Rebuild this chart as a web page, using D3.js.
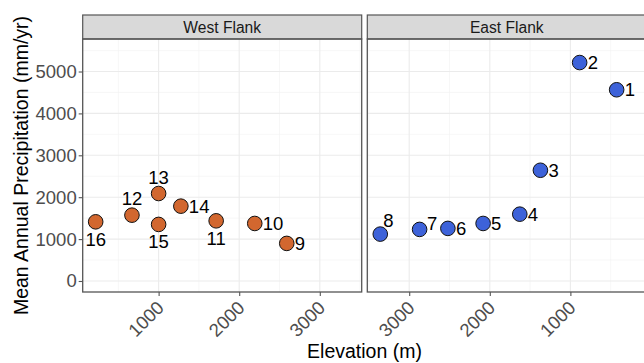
<!DOCTYPE html>
<html>
<head>
<meta charset="utf-8">
<script src="https://cdn.jsdelivr.net/npm/d3@7"></script>
<style>
  body { margin: 0; background: #fff; }
  svg { display: block; font-family: 'Liberation Sans', Arial, Helvetica, sans-serif; }
</style>
</head>
<body>
<div id="chart"></div>
<script>
// facet titles
const facets = ['West Flank', 'East Flank'];

// west flank sites
const westSite = ['16', '12', '13', '15', '14', '11', '10', '9'];
const westElev = [219, 669, 1000, 1000, 1276, 1714, 2193, 2590];
const westPrecip = [1412, 1571, 2088, 1350, 1786, 1436, 1373, 897];
const westLabelSide = ['b', 'a', 'a', 'b', 'r', 'b', 'r', 'r'];

// east flank sites
const eastSite = ['1', '2', '3', '4', '5', '6', '7', '8'];
const eastElev = [426, 885, 1372, 1628, 2083, 2520, 2871, 3359];
const eastPrecip = [4564, 5214, 2643, 1595, 1373, 1255, 1231, 1119];
const eastLabelSide = ['r', 'r', 'r', 'r', 'r', 'r', 'ru', 'ur'];

// axis ticks
const xTicks = [1000, 2000, 3000];
const xMinor = [500, 1500, 2500, 3500];
const yTicks = [0, 1000, 2000, 3000, 4000, 5000];
const yMinor = [500, 1500, 2500, 3500, 4500, 5500];

const W = 644, H = 363;
const panelW = 279, panelTop = 39, panelBottom = 292, stripTop = 15;
const panelLeft = [82.7, 367.3];

const svg = d3.select('#chart').append('svg')
    .attr('width', W)
    .attr('height', H);

const y = d3.scaleLinear().domain([-263, 5776]).range([panelBottom, panelTop]);

const panels = [
  { title: facets[0], site: westSite, elev: westElev, precip: westPrecip, side: westLabelSide,
    fill: '#D2672F', x: d3.scaleLinear().domain([58, 3520]).range([panelLeft[0], panelLeft[0] + panelW]) },
  { title: facets[1], site: eastSite, elev: eastElev, precip: eastPrecip, side: eastLabelSide,
    fill: '#3D62D9', x: d3.scaleLinear().domain([3520, 58]).range([panelLeft[1], panelLeft[1] + panelW]) }
];

// label offsets (dx, baseline dy) relative to the point centre
const offsets = {
  r: [8, 6.5], ru: [7.5, 0.5], ur: [3, -7], a: [0, -10], b: [0, 24]
};

panels.forEach((p, pi) => {
  const x = p.x;
  const x0 = panelLeft[pi], x1 = x0 + panelW;
  const g = svg.append('g');

  // minor grid
  g.selectAll('.xminor').data(xMinor.filter(v => x(v) > x0 && x(v) < x1)).enter()
    .append('line')
    .attr('x1', d => x(d)).attr('x2', d => x(d))
    .attr('y1', panelTop).attr('y2', panelBottom)
    .attr('stroke', '#F2F2F2').attr('stroke-width', 0.6);
  g.selectAll('.yminor').data(yMinor).enter()
    .append('line')
    .attr('x1', x0).attr('x2', x1)
    .attr('y1', d => y(d)).attr('y2', d => y(d))
    .attr('stroke', '#F2F2F2').attr('stroke-width', 0.6);

  // major grid
  g.selectAll('.xmajor').data(xTicks).enter()
    .append('line')
    .attr('x1', d => x(d)).attr('x2', d => x(d))
    .attr('y1', panelTop).attr('y2', panelBottom)
    .attr('stroke', '#EBEBEB').attr('stroke-width', 1.1);
  g.selectAll('.ymajor').data(yTicks).enter()
    .append('line')
    .attr('x1', x0).attr('x2', x1)
    .attr('y1', d => y(d)).attr('y2', d => y(d))
    .attr('stroke', '#EBEBEB').attr('stroke-width', 1.1);

  // strip
  g.append('rect')
    .attr('x', x0).attr('y', stripTop)
    .attr('width', panelW).attr('height', panelTop - stripTop)
    .attr('fill', '#D9D9D9').attr('stroke', '#555').attr('stroke-width', 1.2);
  g.append('text')
    .attr('x', (x0 + x1) / 2).attr('y', (stripTop + panelTop) / 2 + 5.5)
    .attr('text-anchor', 'middle')
    .attr('font-size', '15.6px')
    .attr('fill', '#1A1A1A')
    .text(p.title);

  // x axis
  const xAxis = g.append('g')
    .attr('transform', `translate(0,${panelBottom})`)
    .call(d3.axisBottom(x).tickValues(xTicks).tickSize(4).tickFormat(d3.format('d')));
  xAxis.select('.domain').remove();
  xAxis.selectAll('line').attr('stroke', '#555').attr('stroke-width', 1.1);
  xAxis.selectAll('text')
    .attr('font-size', '18.5px')
    .attr('fill', '#4D4D4D')
    .attr('text-anchor', 'end')
    .attr('dy', null)
    .attr('y', 0)
    .attr('transform', 'translate(6,17) rotate(-45)');

  // y axis on first panel only
  if (pi === 0) {
    const yAxis = g.append('g')
      .attr('transform', `translate(${x0},0)`)
      .call(d3.axisLeft(y).tickValues(yTicks).tickSize(4).tickPadding(2).tickFormat(d3.format('d')));
    yAxis.select('.domain').remove();
    yAxis.selectAll('line').attr('stroke', '#555').attr('stroke-width', 1.1);
    yAxis.selectAll('text')
      .attr('font-size', '18.5px')
      .attr('fill', '#4D4D4D');
  }

  // panel border
  g.append('rect')
    .attr('x', x0).attr('y', panelTop)
    .attr('width', panelW).attr('height', panelBottom - panelTop)
    .attr('fill', 'none').attr('stroke', '#555').attr('stroke-width', 1.3);

  // points
  const pts = p.site.map((s, i) => ({ site: s, elev: p.elev[i], precip: p.precip[i], side: p.side[i] }));
  g.selectAll('circle').data(pts).enter()
    .append('circle')
    .attr('cx', d => x(d.elev))
    .attr('cy', d => y(d.precip))
    .attr('r', 7.3)
    .attr('fill', p.fill)
    .attr('stroke', '#111')
    .attr('stroke-width', 1);

  // site labels
  g.selectAll('.lab').data(pts).enter()
    .append('text')
    .attr('x', d => x(d.elev) + offsets[d.side][0])
    .attr('y', d => y(d.precip) + offsets[d.side][1])
    .attr('text-anchor', d => (d.side === 'a' || d.side === 'b') ? 'middle' : 'start')
    .attr('font-size', '18.5px')
    .attr('fill', '#000')
    .text(d => d.site);
});

// axis titles
svg.append('text')
  .attr('x', (panelLeft[0] + panelLeft[1] + panelW) / 2)
  .attr('y', 358)
  .attr('text-anchor', 'middle')
  .attr('font-size', '19.5px')
  .attr('fill', '#000')
  .text('Elevation (m)');

svg.append('text')
  .attr('transform', `translate(28,${(panelTop + panelBottom) / 2 - 0}) rotate(-90)`)
  .attr('text-anchor', 'middle')
  .attr('font-size', '19.5px')
  .attr('fill', '#000')
  .text('Mean Annual Precipitation (mm/yr)');
</script>
</body>
</html>
